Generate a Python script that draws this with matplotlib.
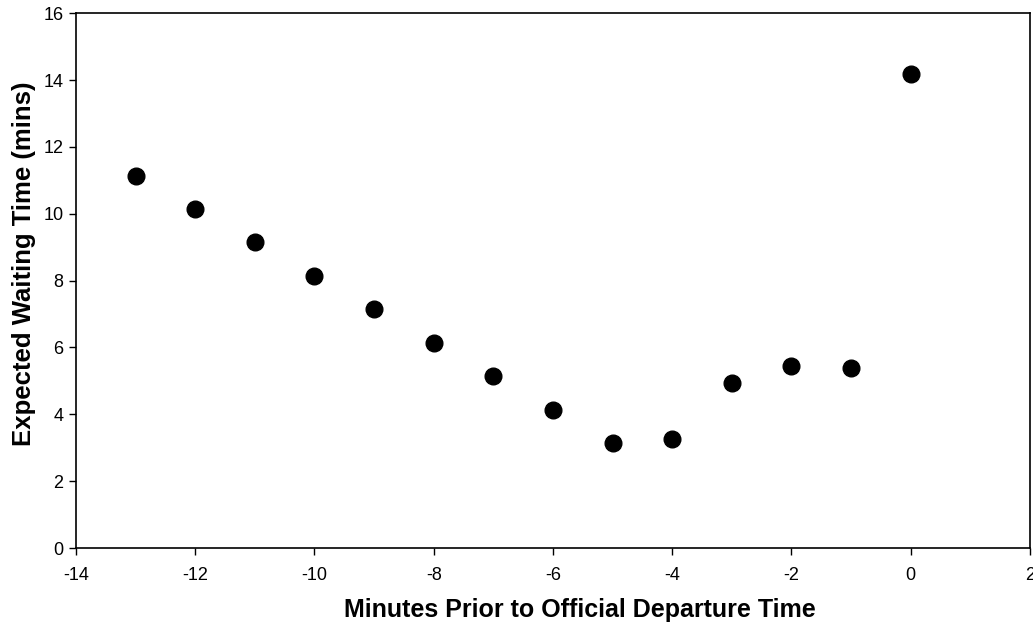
import matplotlib
matplotlib.use("Agg")
import matplotlib.pyplot as plt

plt.rcParams['font.family'] = ['Liberation Sans', 'DejaVu Sans']
plt.rcParams['axes.unicode_minus'] = False

# 数据
minutes = [-13, -12, -11, -10, -9, -8, -7, -6, -5, -4, -3, -2, -1, 0]
wait_time = [11.12, 10.14, 9.15, 8.13, 7.15, 6.13, 5.14, 4.13, 3.14, 3.26, 4.93, 5.44, 5.38, 14.17]
x_ticks = [-14, -12, -10, -8, -6, -4, -2, 0, 2]
y_ticks = [0, 2, 4, 6, 8, 10, 12, 14, 16]

fig = plt.figure(figsize=(10.33, 6.26), dpi=100)
ax = fig.add_axes([0.0736, 0.1246, 0.9234, 0.8544])

ax.plot(minutes, wait_time, 'o', color='black', markersize=12, clip_on=False)

ax.set_xlim(-14, 2)
ax.set_ylim(0, 16)
ax.set_xticks(x_ticks)
ax.set_yticks(y_ticks)
ax.tick_params(direction='out', length=5, width=1, labelsize=13)
ax.tick_params(axis='x', pad=9)
ax.tick_params(axis='y', pad=4)
for s in ax.spines.values():
    s.set_linewidth(1.2)

ax.set_xlabel('Minutes Prior to Official Departure Time', fontsize=18, fontweight='bold')
ax.set_ylabel('Expected Waiting Time (mins)', fontsize=18.5, fontweight='bold')
# 标签位置（参考图里略偏）
ax.xaxis.set_label_coords(0.528, -0.093)
ax.yaxis.set_label_coords(-0.042, 0.532)

fig.savefig('out.png', dpi=100)
